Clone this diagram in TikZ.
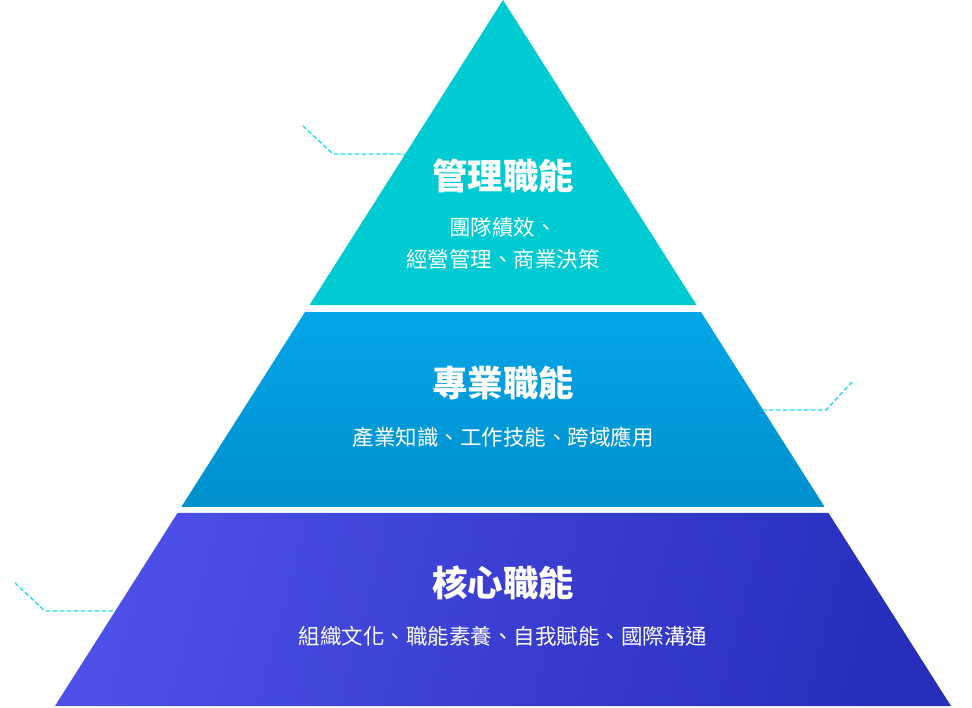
\documentclass[tikz,border=0pt]{standalone}
\usepackage{fontspec}
\setmainfont{Noto Sans CJK TC}
\usetikzlibrary{calc}

\begin{document}
\begin{tikzpicture}[x=1pt,y=-1pt,line cap=round,line join=round]
  % ----- styles & colors -----
  \definecolor{topfill}{RGB}{0,202,210}   % teal
  \definecolor{midtop}{RGB}{4,165,233}
  \definecolor{midbot}{RGB}{0,144,205}
  \definecolor{lowleft}{RGB}{76,80,232}
  \definecolor{lowmid}{RGB}{72,74,227}
  \definecolor{lowright}{RGB}{40,46,188}
  \definecolor{guide}{RGB}{30,225,240}
  \tikzset{
    tiertitle/.style={text=white,font=\fontsize{35.5}{40}\selectfont\bfseries},
    tieritems/.style={text=white,font=\fontsize{21.5}{32}\selectfont,align=center},
    guideline/.style={draw=guide,line width=1.4pt,dash pattern=on 4pt off 3pt}
  }
  \useasboundingbox (0,0) rectangle (972,707);

  % ----- geometry -----
  \coordinate (apex) at (503,0);
  \coordinate (BL) at (55,706);
  \coordinate (BR) at (951,706);

  % tier corners along the two edges (fractions of the height)
  \coordinate (T1L) at ($(apex)!0.432!(BL)$);
  \coordinate (T1R) at ($(apex)!0.432!(BR)$);
  \coordinate (T2L) at ($(apex)!0.442!(BL)$);
  \coordinate (T2R) at ($(apex)!0.442!(BR)$);
  \coordinate (T3L) at ($(apex)!0.718!(BL)$);
  \coordinate (T3R) at ($(apex)!0.718!(BR)$);
  \coordinate (T4L) at ($(apex)!0.7266!(BL)$);
  \coordinate (T4R) at ($(apex)!0.7266!(BR)$);

  % ----- the three tiers -----
  \fill[topfill] (apex) -- (T1R) -- (T1L) -- cycle;
  \shade[top color=midtop,bottom color=midbot] (T2L) -- (T2R) -- (T3R) -- (T3L) -- cycle;
  \shade[left color=lowleft,middle color=lowmid,right color=lowright,shading angle=75]
    (T4L) -- (T4R) -- (BR) -- (BL) -- cycle;

  % ----- dotted guides -----
  \coordinate (g1edge) at ($(apex)!0.2181!(BL)$);
  \coordinate (g2edge) at ($(apex)!0.5807!(BR)$);
  \coordinate (g3edge) at ($(apex)!0.8654!(BL)$);
  \coordinate (g1a) at (303,126);
  \coordinate (g1b) at (333,154);
  \coordinate (g2a) at (852,382);
  \coordinate (g2b) at (826,410);
  \coordinate (g3a) at (15,583);
  \coordinate (g3b) at (45,611);
  \draw[guideline] (g1a) -- (g1b) -- (g1edge);
  \draw[guideline] (g2a) -- (g2b) -- (g2edge);
  \draw[guideline] (g3a) -- (g3b) -- (g3edge);

  % ----- labels -----
  \node[tiertitle] (toptitle) at (503,176) {管理職能};
  \node[tieritems] (topitems) at (503,243) {團隊績效、\\經營管理、商業決策};
  \node[tiertitle] (midtitle) at (503,383) {專業職能};
  \node[tieritems] (miditems) at (503,437) {產業知識、工作技能、跨域應用};
  \node[tiertitle] (lowtitle) at (503,583) {核心職能};
  \node[tieritems] (lowitems) at (503,636) {組織文化、職能素養、自我賦能、國際溝通};

\end{tikzpicture}
\end{document}
